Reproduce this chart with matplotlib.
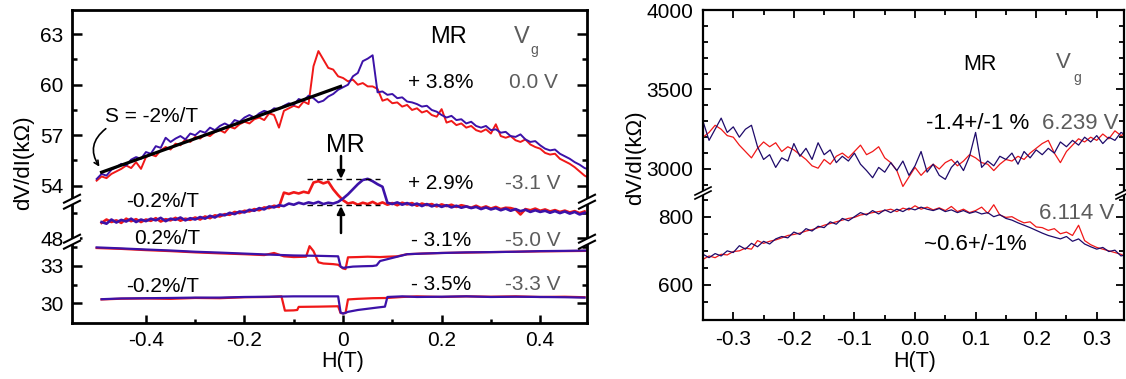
import numpy as np
import matplotlib
matplotlib.use('Agg')
import matplotlib.pyplot as plt
from matplotlib.lines import Line2D
from matplotlib.patches import Polygon, FancyArrowPatch

plt.rcParams['font.family'] = ['Liberation Sans', 'DejaVu Sans']

# ---------------- data: left panel (kOhm vs H in T) ----------------
H_top = np.linspace(-0.50, 0.50, 101)
red_0V = [54.30,54.55,54.45,54.70,54.85,55.00,55.20,55.05,55.40,55.00,
          55.70,55.85,55.75,56.10,56.30,56.15,56.50,56.40,56.75,56.60,
          56.90,56.80,57.05,56.95,57.20,57.30,57.15,57.50,57.40,57.65,
          57.80,57.70,57.95,58.05,57.90,58.30,58.20,57.45,58.45,58.60,
          58.75,58.65,59.00,58.85,61.10,62.00,61.50,61.00,60.90,60.50,
          60.40,60.20,60.30,60.00,60.10,59.90,59.90,59.75,59.05,59.15,
          58.90,58.95,58.70,58.80,58.50,58.60,58.35,58.45,58.20,58.10,
          58.55,57.75,57.85,57.60,57.70,57.45,57.55,57.30,57.20,57.35,
          57.10,57.65,56.95,56.85,56.95,56.70,56.60,56.75,56.45,56.30,
          56.20,55.95,55.85,55.90,55.60,55.45,55.30,55.10,54.85,54.60,
          54.45]
blue_0V = [54.40,54.70,54.60,54.95,55.10,55.30,55.20,55.55,55.70,55.60,
           56.00,55.90,56.35,56.25,56.85,56.60,56.80,56.95,56.75,57.10,
           57.00,57.25,57.15,57.45,57.30,57.55,57.70,57.55,57.90,57.80,
           58.05,58.20,58.05,58.30,58.45,58.35,58.60,58.55,58.75,58.90,
           58.80,59.15,59.05,59.35,59.20,58.95,59.05,59.30,59.45,59.70,
           59.85,60.00,60.50,60.70,61.40,61.55,61.75,59.55,59.60,59.40,
           59.45,59.20,59.25,59.00,58.95,58.85,58.70,58.75,58.50,58.40,
           58.20,58.05,58.15,57.90,57.95,57.70,57.80,57.55,57.45,57.55,
           57.30,57.35,57.15,57.20,56.95,56.90,57.05,56.75,56.60,56.65,
           56.40,56.20,56.10,56.15,55.90,55.75,55.60,55.40,55.25,55.05,
           54.95]
fit_H = [-0.49, -0.005]
fit_v = [54.80, 59.90]

H_mid = np.linspace(-0.49, 0.49, 99)
red_m31 = [48.90,49.10,48.95,49.05,48.90,49.15,49.00,49.12,48.95,49.10,
           49.02,49.18,48.98,49.12,49.05,49.20,49.03,49.15,49.08,49.22,
           49.10,49.28,49.18,49.35,49.28,49.42,49.38,49.55,49.48,49.62,
           49.58,49.72,49.65,49.82,49.78,49.92,49.85,50.70,50.62,50.72,
           50.65,50.75,50.68,51.30,51.38,51.25,51.35,50.90,50.55,50.25,
           50.05,50.12,49.98,50.10,50.02,50.15,50.00,50.12,49.98,50.08,
           49.95,50.10,50.00,50.08,49.92,50.05,49.96,50.02,49.88,50.00,
           49.90,49.98,49.85,49.95,49.88,49.80,49.92,49.78,49.88,49.75,
           49.85,49.72,49.80,49.78,49.70,49.40,49.72,49.65,49.75,49.62,
           49.70,49.58,49.66,49.55,49.63,49.52,49.60,49.48,49.58]
blue_m31 = [48.95,48.85,49.10,48.92,49.08,48.98,49.15,48.95,49.10,49.00,
            49.15,49.05,49.20,49.00,49.15,49.08,49.22,49.05,49.18,49.10,
            49.25,49.15,49.32,49.22,49.40,49.35,49.50,49.42,49.58,49.52,
            49.68,49.62,49.78,49.70,49.88,49.82,49.95,49.90,50.05,49.98,
            50.10,50.02,50.12,50.05,50.15,50.02,50.10,50.05,50.15,50.35,
            50.60,50.90,51.20,51.45,51.52,51.38,51.20,51.05,50.10,50.02,
            50.12,49.98,50.08,49.95,50.05,49.90,50.02,49.88,49.98,49.85,
            49.95,49.82,49.92,49.80,49.88,49.78,49.85,49.72,49.82,49.70,
            49.78,49.65,49.75,49.62,49.72,49.60,49.68,49.55,49.65,49.55,
            49.62,49.50,49.60,49.48,49.58,49.45,49.55,49.40,49.50]

H_blue_m50 = [-0.50,-0.45,-0.40,-0.35,-0.30,-0.25,-0.20,-0.15,-0.10,-0.05,-0.03,-0.01,
              -0.005,0.00,0.02,0.04,0.06,0.068,0.075,0.09,0.11,0.13,0.16,0.20,0.25,
              0.30,0.35,0.40,0.45,0.50]
blue_m50 = [34.50,34.42,34.33,34.25,34.15,34.08,34.00,33.92,33.85,33.82,33.80,33.78,
            32.95,32.85,32.95,32.98,33.00,33.05,33.40,33.55,33.75,33.95,34.00,34.05,
            34.10,34.12,34.15,34.20,34.22,34.25]
H_red_m50 = [-0.50,-0.45,-0.40,-0.35,-0.30,-0.25,-0.20,-0.16,-0.14,-0.12,-0.10,-0.075,
             -0.068,-0.06,-0.05,-0.04,-0.02,-0.01,0.00,0.005,0.01,0.03,0.05,0.075,0.09,
             0.11,0.13,0.16,0.20,0.25,0.30,0.35,0.40,0.45,0.50]
red_m50 = [34.45,34.38,34.28,34.20,34.10,34.02,33.95,33.88,34.05,33.78,33.72,33.75,
           34.60,34.20,33.30,33.20,33.15,33.10,32.80,32.75,33.70,33.72,33.75,33.72,33.75,
           33.78,33.95,34.00,34.05,34.08,34.12,34.15,34.18,34.20,34.22]

H_blue_m33 = [-0.49,-0.45,-0.40,-0.35,-0.30,-0.25,-0.20,-0.15,-0.10,-0.05,-0.01,-0.005,
              0.00,0.01,0.03,0.05,0.07,0.085,0.09,0.12,0.15,0.20,0.25,0.30,0.35,0.40,
              0.45,0.49]
blue_m33 = [30.32,30.38,30.40,30.42,30.45,30.45,30.50,30.52,30.55,30.55,30.55,29.25,
            29.15,29.30,29.45,29.55,29.65,29.72,30.50,30.55,30.50,30.52,30.55,30.50,
            30.52,30.50,30.48,30.45]
H_red_m33 = [-0.49,-0.45,-0.40,-0.35,-0.30,-0.25,-0.20,-0.15,-0.125,-0.118,-0.10,-0.093,
             -0.09,-0.05,-0.01,-0.005,0.005,0.01,0.03,0.06,0.09,0.12,0.15,0.20,0.25,
             0.30,0.35,0.40,0.45,0.49]
red_m33 = [30.30,30.36,30.38,30.35,30.42,30.40,30.48,30.50,30.55,29.40,29.42,29.45,
           29.70,29.72,29.75,29.20,29.20,30.30,30.35,30.40,30.42,30.50,30.55,30.50,
           30.55,30.52,30.55,30.50,30.52,30.48]

# ---------------- data: right panel ----------------
H_r = np.linspace(-0.35, 0.35, 71)
blue_6239 = [3300,3180,3250,3320,3230,3265,3200,3250,3275,3140,
             3060,3090,3010,3070,3050,3160,3080,3130,3060,3165,
             3090,3120,3040,3080,3050,3100,3030,2990,2945,3010,
             2980,3040,2990,3050,2960,3020,3110,2980,3030,2960,
             2935,3010,3050,2990,3080,3230,3010,3050,3020,3080,
             3060,3100,3030,3110,3070,3120,3090,3130,3100,3170,
             3140,3180,3150,3200,3170,3210,3160,3200,3180,3230,
             3210]
red_6239 = [3200,3230,3275,3250,3210,3200,3150,3110,3070,3130,
            3170,3140,3165,3110,3140,3120,3090,3060,3020,3005,
            3060,3030,3080,3100,3070,3110,3150,3090,3110,3140,
            3070,3040,2990,2890,2950,3010,2960,3000,3030,3000,
            3040,3060,3020,3050,3090,3070,3040,3030,2990,3030,
            3060,3050,3080,3060,3100,3130,3160,3180,3100,3040,
            3110,3150,3190,3170,3200,3180,3220,3190,3240,3210,
            3230]
blue_6114 = [690,680,692,685,700,695,715,705,722,712,
             728,720,735,742,738,755,748,765,758,772,
             768,785,778,795,788,800,812,805,818,808,
             820,812,822,815,825,820,828,822,818,824,
             815,820,812,818,810,815,808,812,800,806,
             795,790,782,775,768,760,752,745,740,735,
             742,728,735,720,712,705,710,698,702,685,
             690]
red_6114 = [675,685,680,690,688,698,700,708,705,730,
            722,728,732,738,745,748,752,758,762,768,
            775,780,785,790,795,798,805,808,812,815,
            818,822,815,825,820,832,822,828,820,826,
            818,830,815,822,812,818,828,810,835,805,
            798,800,790,782,785,770,768,760,765,750,
            755,745,775,730,718,710,705,700,695,690,
            680]

xt_left = [-0.4, -0.2, 0.0, 0.2, 0.4]
xt_left_lab = ['-0.4', '-0.2', '0', '0.2', '0.4']
xt_right = [-0.3, -0.2, -0.1, 0.0, 0.1, 0.2, 0.3]
xt_right_lab = ['-0.3', '-0.2', '-0.1', '0.0', '0.1', '0.2', '0.3']

# ---------------- figure ----------------
W, Hh = 1126, 379
fig = plt.figure(figsize=(W / 100, Hh / 100), dpi=100)

def fx(x):
    return x / W

def fy(y):
    return 1 - y / Hh

def add_axes_px(x0, y0, x1, y1):
    return fig.add_axes([fx(x0), fy(y1), (x1 - x0) / W, (y1 - y0) / Hh])

RED = '#f01818'
BLUE = '#3c12a8'
NAVY = '#1e0a6a'
GRAY = '#5c5c5c'
TS = 15

# left panel: three stacked segments
axT = add_axes_px(72, 10, 587, 201.7)
axM = add_axes_px(72, 201.7, 587, 241.7)
axB = add_axes_px(72, 241.7, 587, 323)
for ax in (axT, axM, axB):
    ax.set_xlim(-0.55, 0.495)
    for s in ax.spines.values():
        s.set_linewidth(2.0)
    ax.tick_params(which='both', direction='in', left=True, right=True, top=False,
                   labelsize=TS, width=1.8, pad=6)
    ax.tick_params(which='major', length=7)
    ax.tick_params(which='minor', length=3.5)
axT.set_ylim(53.05, 64.44)
axM.set_ylim(47.78, 50.16)
axB.set_ylim(28.4, 34.96)
axT.spines['bottom'].set_visible(False)
axM.spines['top'].set_visible(False)
axM.spines['bottom'].set_visible(False)
axB.spines['top'].set_visible(False)
for ax in (axT, axM):
    ax.tick_params(which='both', bottom=False, labelbottom=False)
axT.set_yticks([54, 57, 60, 63]); axT.set_yticks([55.5, 58.5, 61.5], minor=True)
axM.set_yticks([48]); axM.set_yticks([49.5], minor=True)
axB.set_yticks([30, 33]); axB.set_yticks([31.5, 34.5], minor=True)
axB.set_xticks(xt_left); axB.set_xticklabels(xt_left_lab)
axB.set_xticks([-0.3, -0.1, 0.1, 0.3], minor=True)
axB.tick_params(axis='x', which='major', length=6)
axB.tick_params(axis='x', which='minor', length=3)

lwL = 1.4
axT.plot(H_top, red_0V, color=RED, lw=lwL)
axT.plot(H_top, blue_0V, color=BLUE, lw=lwL)
axT.plot(fit_H, fit_v, color='k', lw=2.3)
axM.plot(H_mid, red_m31, color=RED, lw=1.9, clip_on=False)
axM.plot(H_mid, blue_m31, color=BLUE, lw=1.9, clip_on=False)
axB.plot(H_red_m50, red_m50, color=RED, lw=1.6)
axB.plot(H_blue_m50, blue_m50, color=BLUE, lw=1.6)
axB.plot(H_red_m33, red_m33, color=RED, lw=1.6)
axB.plot(H_blue_m33, blue_m33, color=BLUE, lw=1.6)

# right panel: two stacked segments
aR1 = add_axes_px(703, 10, 1124, 193)
aR2 = add_axes_px(703, 193, 1124, 320)
for ax in (aR1, aR2):
    ax.set_xlim(-0.35, 0.345)
    for s in ax.spines.values():
        s.set_linewidth(1.6)
    ax.tick_params(which='both', direction='in', left=True, right=True,
                   labelsize=TS, width=1.3, pad=7)
    ax.tick_params(which='major', length=6)
    ax.tick_params(which='minor', length=3.5)
    ax.set_xticks(xt_right)
    ax.set_xticks([-0.25, -0.15, -0.05, 0.05, 0.15, 0.25], minor=True)
aR1.set_ylim(2849, 4000)
aR2.set_ylim(497.5, 869.4)
aR1.spines['bottom'].set_visible(False)
aR2.spines['top'].set_visible(False)
aR1.tick_params(which='both', top=True, bottom=False, labelbottom=False)
aR2.tick_params(which='both', top=False, bottom=True)
aR2.set_xticklabels(xt_right_lab)
aR1.set_yticks([3000, 3500, 4000])
aR1.set_yticks([2900, 3100, 3200, 3300, 3400, 3600, 3700, 3800, 3900], minor=True)
aR2.set_yticks([600, 800])
aR2.set_yticks([550, 650, 700, 750, 850], minor=True)

lwR = 0.9
aR1.plot(H_r, red_6239, color=RED, lw=lwR)
aR1.plot(H_r, blue_6239, color=NAVY, lw=lwR)
aR2.plot(H_r, red_6114, color=RED, lw=lwR)
aR2.plot(H_r, blue_6114, color=NAVY, lw=lwR)

# ---------------- break marks ----------------
def brk(x, y, lw=1.5, d=8, s=4, g=3):
    poly = Polygon([[fx(x - d), fy(y + s - g)], [fx(x + d), fy(y - s - g)],
                    [fx(x + d), fy(y - s + g)], [fx(x - d), fy(y + s + g)]],
                   closed=True, transform=fig.transFigure, facecolor='white',
                   edgecolor='none', zorder=10)
    fig.add_artist(poly)
    for o in (-g, g):
        fig.add_artist(Line2D([fx(x - d), fx(x + d)], [fy(y + s + o), fy(y - s + o)],
                              transform=fig.transFigure, color='k', lw=lw, zorder=11))

for yb in (201.7, 241.7):
    brk(72, yb)
    brk(587, yb)
brk(703, 193, lw=1.2, g=2)
brk(1124, 193, lw=1.2, g=2)

# ---------------- texts ----------------
def txt(x, y, s, size=TS, color='k', **kw):
    fig.text(fx(x), fy(y), s, fontsize=size, color=color, ha='center', va='center', **kw)

txt(24, 163, 'dV/dI(k\u03a9)', size=16, rotation=90)
txt(636, 158, 'dV/dI(k\u03a9)', size=16, rotation=90)
txt(343, 362, 'H(T)', size=15.5)
txt(915, 362, 'H(T)', size=15.5)

# left panel annotations
txt(448, 37, 'MR', size=17)
txt(522, 37, 'V', size=17, color=GRAY)
txt(534, 50, 'g', size=10, color=GRAY)
for yy, mr, vg in ((83, '+ 3.8%', '0.0 V'), (184, '+ 2.9%', '-3.1 V'),
                   (241, '- 3.1%', '-5.0 V'), (284, '- 3.5%', '-3.3 V')):
    txt(441, yy, mr)
    txt(533, yy, vg, color=GRAY)
txt(152, 116, 'S = -2%/T')
txt(163, 201, '-0.2%/T')
txt(167, 239, '0.2%/T')
txt(163, 286, '-0.2%/T')
txt(345, 145, 'MR', size=18)

fig.add_artist(FancyArrowPatch((fx(108), fy(127)), (fx(101), fy(169)),
                               transform=fig.transFigure, arrowstyle='->',
                               connectionstyle='arc3,rad=0.5', lw=1.2,
                               mutation_scale=8, color='k'))
fig.add_artist(FancyArrowPatch((fx(341), fy(156)), (fx(341), fy(179)),
                               transform=fig.transFigure, arrowstyle='-|>',
                               lw=1.8, mutation_scale=11, color='k', shrinkA=0, shrinkB=0))
fig.add_artist(FancyArrowPatch((fx(341), fy(233)), (fx(341), fy(206)),
                               transform=fig.transFigure, arrowstyle='-|>',
                               lw=1.8, mutation_scale=11, color='k', shrinkA=0, shrinkB=0))
for yd in (179, 205):
    fig.add_artist(Line2D([fx(307), fx(380)], [fy(yd), fy(yd)], transform=fig.transFigure,
                          color='k', lw=1.0, ls=(0, (4, 3))))

# right panel annotations
txt(980, 64, 'MR', size=15.5)
txt(1063, 63, 'V', size=16, color=GRAY)
txt(1077, 78, 'g', size=10, color=GRAY)
txt(978, 124, '-1.4+/-1 %', size=16)
txt(1080, 124, '6.239 V', size=16, color=GRAY)
txt(1077, 213, '6.114 V', size=16, color=GRAY)
txt(975, 244, '~0.6+/-1%', size=16)

fig.savefig('out.png', dpi=100)
